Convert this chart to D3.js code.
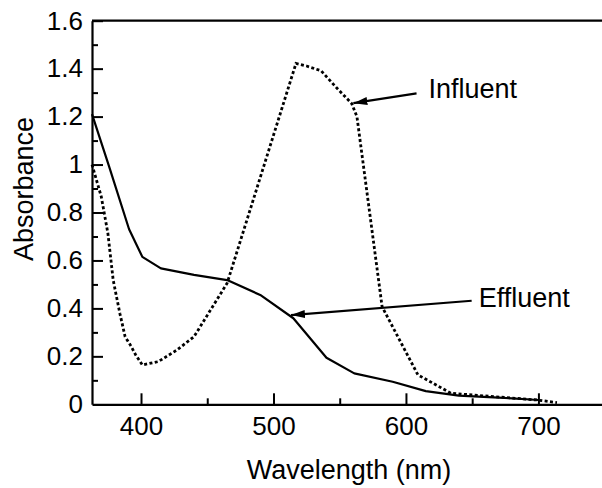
<!DOCTYPE html>
<html lang="en">
<head>
    <meta charset="UTF-8">
    <title>Absorbance spectra</title>
    <script src="https://d3js.org/d3.v7.min.js"></script>
    <style>
        body { margin: 0; background: #fff; font-family: "Liberation Sans", Arial, sans-serif; }
        svg { display: block; }
    </style>
</head>
<body>
    <div id="chart"></div>
    <script>
        // wavelength (nm) / absorbance
        const effluentWl  = [363, 376, 391, 401, 415, 440, 465, 490, 515, 540, 561, 590, 615, 640, 670, 700];
        const effluentAbs = [1.21, 0.99, 0.73, 0.615, 0.567, 0.54, 0.518, 0.456, 0.359, 0.194, 0.129, 0.094, 0.055, 0.036, 0.028, 0.018];

        const influentWl  = [363, 370, 375, 379, 384, 388, 392, 396, 401, 413, 427, 440, 465, 517, 525, 536, 548, 559, 563, 582, 609, 634, 699, 714];
        const influentAbs = [1.0, 0.866, 0.713, 0.518, 0.38, 0.282, 0.247, 0.206, 0.164, 0.178, 0.226, 0.282, 0.505, 1.422, 1.411, 1.391, 1.318, 1.255, 1.2, 0.407, 0.123, 0.046, 0.018, 0.007];

        const xTicks = [400, 500, 600, 700];
        const xMinor = [450, 550, 650];
        const yTicks = [0, 0.2, 0.4, 0.6, 0.8, 1, 1.2, 1.4, 1.6];
        const yMinor = [0.1, 0.3, 0.5, 0.7, 0.9, 1.1, 1.3, 1.5];

        // labels with arrows: text position, arrow tail, arrow tip (data units)
        const labels = [
            { text: "Influent", tx: 617, ty: 1.278, x1: 608, y1: 1.297, x2: 560.3, y2: 1.256 },
            { text: "Effluent", tx: 655, ty: 0.407, x1: 649.6, y1: 0.432, x2: 513.2, y2: 0.372 }
        ];

        const width = 602;
        const height = 488;

        const x = d3.scaleLinear().domain([363, 748]).range([92, 602]);
        const y = d3.scaleLinear().domain([0, 1.6]).range([404.3, 20.7]);

        const svg = d3.select("#chart")
            .append("svg")
            .attr("width", width)
            .attr("height", height);

        svg.append("defs").append("marker")
            .attr("id", "arrow")
            .attr("viewBox", "0 0 14 8")
            .attr("refX", 14)
            .attr("refY", 4)
            .attr("markerWidth", 14)
            .attr("markerHeight", 8)
            .attr("markerUnits", "userSpaceOnUse")
            .attr("orient", "auto")
            .append("path")
            .attr("d", "M0,0L14,4L0,8Z")
            .attr("fill", "#000");

        // minor ticks first, under the main axes
        svg.append("g")
            .attr("transform", `translate(0,${y(0)})`)
            .call(d3.axisBottom(x).tickValues(xMinor).tickSize(-6).tickFormat(""))
            .call(g => g.select(".domain").remove())
            .selectAll("line").attr("stroke-width", 2);

        svg.append("g")
            .attr("transform", `translate(${x(363)},0)`)
            .call(d3.axisLeft(y).tickValues(yMinor).tickSize(-6).tickFormat(""))
            .call(g => g.select(".domain").remove())
            .selectAll("line").attr("stroke-width", 2);

        const xAxis = svg.append("g")
            .attr("transform", `translate(0,${y(0)})`)
            .call(d3.axisBottom(x).tickValues(xTicks).tickSize(-11).tickSizeOuter(0).tickPadding(12).tickFormat(d3.format("d")));

        const yAxis = svg.append("g")
            .attr("transform", `translate(${x(363)},0)`)
            .call(d3.axisLeft(y).tickValues(yTicks).tickSize(-11).tickSizeOuter(0).tickPadding(9).tickFormat(d => d));

        [xAxis, yAxis].forEach(g => {
            g.select(".domain").attr("stroke-width", 2.2);
            g.selectAll(".tick line").attr("stroke-width", 2);
            g.selectAll("text")
                .attr("font-family", "Liberation Sans, Arial, sans-serif")
                .attr("font-size", 26)
                .attr("fill", "#000");
        });
        // the 0 tick sits on the frame corner
        yAxis.selectAll(".tick").filter(d => d === 0).select("line").remove();

        // top frame line
        svg.append("line")
            .attr("x1", x(363)).attr("x2", x(748))
            .attr("y1", y(1.6)).attr("y2", y(1.6))
            .attr("stroke", "#000")
            .attr("stroke-width", 2.2);

        const line = d3.line()
            .x(d => x(d[0]))
            .y(d => y(d[1]));

        svg.append("path")
            .datum(d3.zip(influentWl, influentAbs))
            .attr("d", line)
            .attr("fill", "none")
            .attr("stroke", "#000")
            .attr("stroke-width", 2.8)
            .attr("stroke-dasharray", "3,2.4");

        svg.append("path")
            .datum(d3.zip(effluentWl, effluentAbs))
            .attr("d", line)
            .attr("fill", "none")
            .attr("stroke", "#000")
            .attr("stroke-width", 2.2)
            .attr("stroke-linejoin", "round");

        // annotations
        svg.selectAll(".arrow")
            .data(labels)
            .join("line")
            .attr("x1", d => x(d.x1)).attr("y1", d => y(d.y1))
            .attr("x2", d => x(d.x2)).attr("y2", d => y(d.y2))
            .attr("stroke", "#000")
            .attr("stroke-width", 2.2)
            .attr("marker-end", "url(#arrow)");

        svg.selectAll(".label")
            .data(labels)
            .join("text")
            .attr("x", d => x(d.tx))
            .attr("y", d => y(d.ty))
            .attr("font-size", 27)
            .text(d => d.text);

        // axis titles
        svg.append("text")
            .attr("x", 349)
            .attr("y", 479)
            .attr("text-anchor", "middle")
            .attr("font-size", 27)
            .text("Wavelength (nm)");

        svg.append("text")
            .attr("transform", "translate(33,189) rotate(-90)")
            .attr("text-anchor", "middle")
            .attr("font-size", 27)
            .text("Absorbance");
    </script>
</body>
</html>
